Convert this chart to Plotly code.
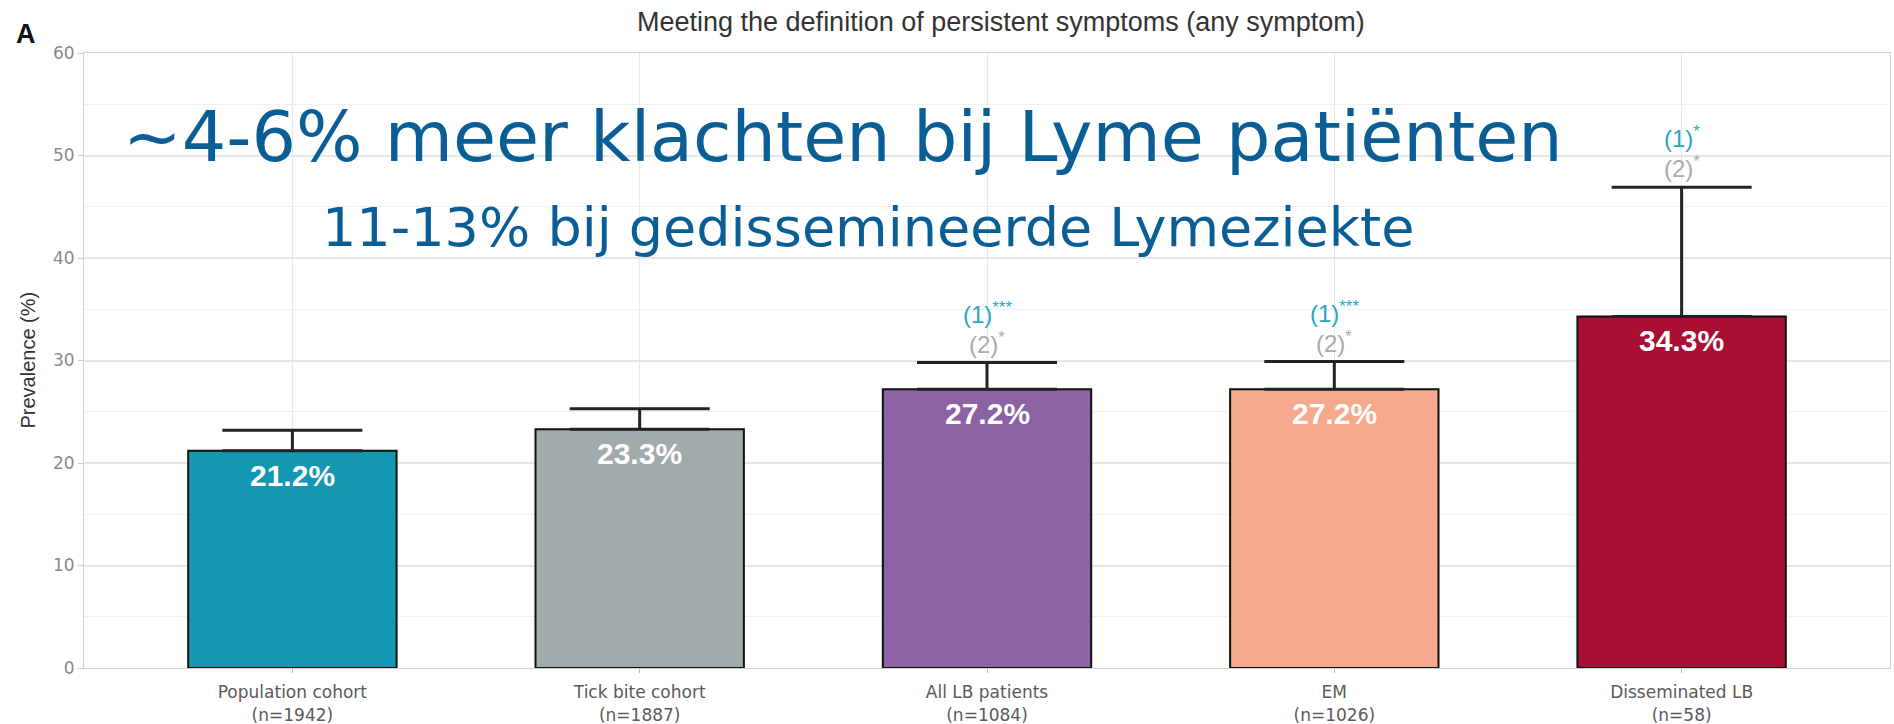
import plotly.graph_objects as go

categories = ["Population cohort<br>(n=1942)", "Tick bite cohort<br>(n=1887)",
              "All LB patients<br>(n=1084)", "EM<br>(n=1026)", "Disseminated LB<br>(n=58)"]
values = [21.2, 23.3, 27.2, 27.2, 34.3]
upper = [23.2, 25.3, 29.8, 29.9, 46.9]
colors = ["#1497B0", "#A1ABAC", "#8B62A3", "#F6A98C", "#A80F32"]
sig1 = ["", "", "(1)<sup>***</sup>", "(1)<sup>***</sup>", "(1)<sup>*</sup>"]
sig2 = ["", "", "(2)<sup>*</sup>", "(2)<sup>*</sup>", "(2)<sup>*</sup>"]
y_ticks = [0, 10, 20, 30, 40, 50, 60]

x = list(range(len(categories)))
fig = go.Figure()
fig.add_trace(go.Bar(
    x=x, y=values, width=0.6,
    marker=dict(color=colors, line=dict(color="#111111", width=2)),
    error_y=dict(type="data", symmetric=False,
                 array=[u - v for u, v in zip(upper, values)],
                 arrayminus=[0] * len(values),
                 color="#222222", thickness=3, width=70),
    hoverinfo="skip",
))

ann = []
for i, v in enumerate(values):
    ann.append(dict(x=i, y=v, text=f"<b>{v:.1f}%</b>", showarrow=False,
                    yanchor="top", yshift=-6,
                    font=dict(family="Liberation Sans, Arial", size=30, color="white")))
    if sig1[i]:
        ann.append(dict(x=i, y=upper[i], text=sig1[i], showarrow=False,
                        yanchor="middle", yshift=50,
                        font=dict(family="Liberation Sans, Arial", size=24, color="#2BA6C2")))
        ann.append(dict(x=i, y=upper[i], text=sig2[i], showarrow=False,
                        yanchor="middle", yshift=20,
                        font=dict(family="Liberation Sans, Arial", size=24, color="#AAAAAA")))

ann.append(dict(xref="paper", yref="paper", x=0.5, y=1.0, xshift=14, yshift=31,
                text="Meeting the definition of persistent symptoms (any symptom)",
                showarrow=False, xanchor="center", yanchor="middle",
                font=dict(family="Liberation Sans, Arial", size=27, color="#333333")))
ann.append(dict(xref="paper", yref="paper", x=0, y=1.0, xshift=-70, yshift=19, text="<b>A</b>",
                showarrow=False, xanchor="left", yanchor="middle",
                font=dict(family="Liberation Sans, Arial", size=27, color="#111111")))
ann.append(dict(xref="paper", yref="paper", x=0, y=0.5, xshift=-57, text="Prevalence (%)",
                textangle=-90, showarrow=False, xanchor="center", yanchor="middle",
                font=dict(family="Liberation Sans, Arial", size=20, color="#333333")))
ann.append(dict(xref="paper", yref="paper", x=0, y=1.0, xshift=37, yshift=-84,
                text="~4-6% meer klachten bij Lyme patiënten",
                showarrow=False, xanchor="left", yanchor="middle",
                font=dict(family="DejaVu Sans", size=70, color="#0A5E96")))
ann.append(dict(xref="paper", yref="paper", x=0, y=1.0, xshift=236, yshift=-174,
                text="11-13% bij gedissemineerde Lymeziekte",
                showarrow=False, xanchor="left", yanchor="middle",
                font=dict(family="DejaVu Sans", size=54, color="#0A5E96")))

fig.update_layout(
    width=1894, height=724,
    margin=dict(l=84, r=4, t=53, b=56),
    plot_bgcolor="white", paper_bgcolor="white",
    showlegend=False, bargap=0.4,
    annotations=ann,
    xaxis=dict(range=[-0.6, 4.6], tickvals=x, ticktext=categories,
               showgrid=True, gridcolor="#E8E8E8", gridwidth=1,
               showline=True, linecolor="#D0D0D0", mirror=True,
               ticks="outside", ticklen=4, tickcolor="#BBBBBB",
               ticklabelstandoff=5, automargin=False,
               tickfont=dict(family="DejaVu Sans", size=17, color="#5A5A5A"),
               zeroline=False, fixedrange=True),
    yaxis=dict(range=[0, 60], tickvals=y_ticks, automargin=False,
               showgrid=True, gridcolor="#E6E6E6", gridwidth=1.5,
               minor=dict(dtick=5, showgrid=True, gridcolor="#F0F0F0", gridwidth=1),
               showline=True, linecolor="#D0D0D0", mirror=True,
               ticks="outside", ticklen=5, tickcolor="#CCCCCC",
               tickfont=dict(family="DejaVu Sans", size=17, color="#8A8A8A"),
               zeroline=False, fixedrange=True),
)

fig.write_html("out.html", config={"displayModeBar": False},
               post_script="document.body.style.margin='0px';document.body.style.overflow='hidden';")
